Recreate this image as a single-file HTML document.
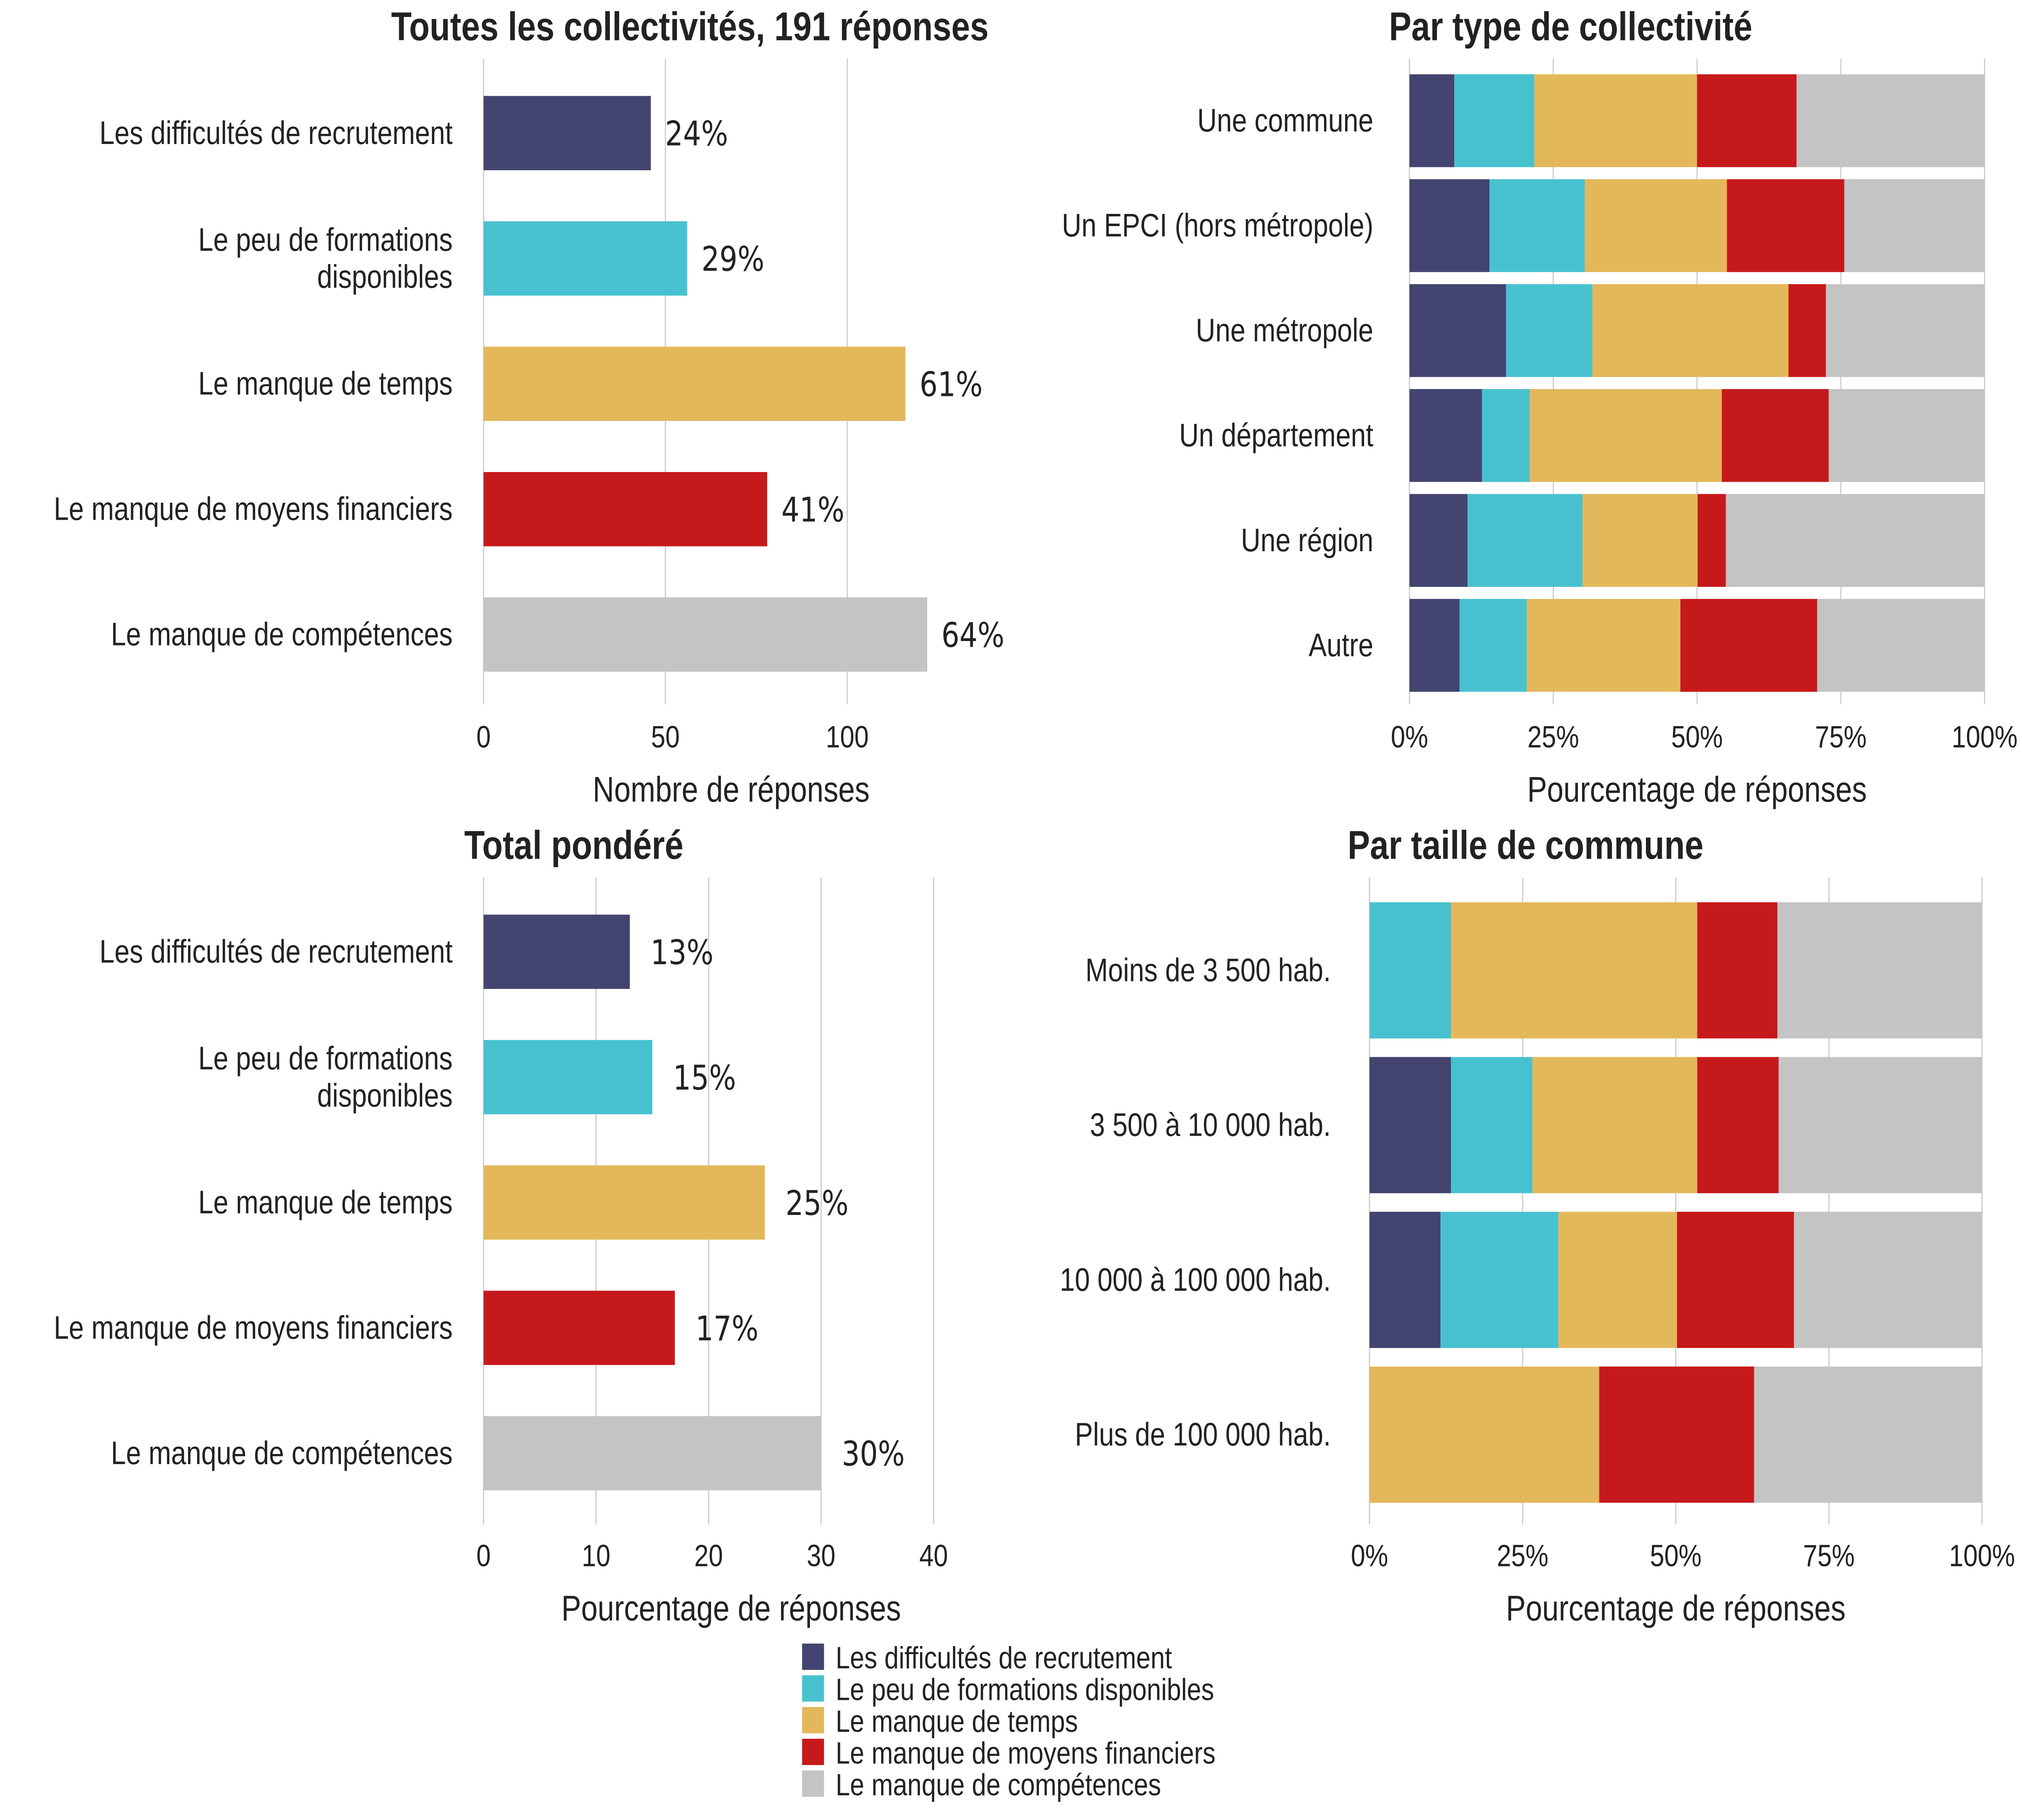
<!DOCTYPE html>
<html><head><meta charset="utf-8"><style>
html,body{margin:0;padding:0;background:#fff;overflow:hidden;width:100vw;height:100vh;}
svg{display:block;width:100vw;height:100vh;}
text{font-family:"Liberation Sans Narrow","Liberation Sans","DejaVu Sans",sans-serif;fill:#222;}
.pct{font-family:"DejaVu Sans","Liberation Sans",sans-serif;}
</style></head><body>
<svg id="chart" viewBox="0 0 1568 1176" preserveAspectRatio="none" xmlns="http://www.w3.org/2000/svg"></svg>
<script>
const causes = ["Les difficultés de recrutement","Le peu de formations disponibles","Le manque de temps","Le manque de moyens financiers","Le manque de compétences"];
const causeLabels = [["Les difficultés de recrutement"],["Le peu de formations","disponibles"],["Le manque de temps"],["Le manque de moyens financiers"],["Le manque de compétences"]];
const colors = ["#43446f","#48c1cf","#e3b85a","#c6191c","#c4c4c4"];
const allCounts = [46,56,116,78,122];
const allPctLabels = ["24%","29%","61%","41%","64%"];
const allTicks = [0,50,100];
const weighted = [13,15,25,17,30];
const weightedLabels = ["13%","15%","25%","17%","30%"];
const weightedTicks = [0,10,20,30,40];
const typeCats = ["Une commune","Un EPCI (hors métropole)","Une métropole","Un département","Une région","Autre"];
const typeRecrut = [7.8,13.9,16.8,12.6,10.1,8.7];
const typeForm = [13.9,16.6,15.0,8.3,20.0,11.7];
const typeTemps = [28.3,24.7,34.1,33.4,20.0,26.7];
const typeMoyens = [17.3,20.4,6.5,18.6,4.9,23.8];
const typeComp = [32.7,24.4,27.6,27.1,45.0,29.1];
const sizeCats = ["Moins de 3 500 hab.","3 500 à 10 000 hab.","10 000 à 100 000 hab.","Plus de 100 000 hab."];
const sizeRecrut = [0,13.3,11.6,0];
const sizeForm = [13.3,13.3,19.2,0];
const sizeTemps = [40.2,26.9,19.4,37.5];
const sizeMoyens = [13.1,13.3,19.1,25.3];
const sizeComp = [33.4,33.2,30.7,37.2];
const pctTicks = [0,25,50,75,100];
const pctTickLabels = ["0%","25%","50%","75%","100%"];

const svg = document.getElementById('chart');
const NS = "http://www.w3.org/2000/svg";
function mk(tag, attrs, parent){const e=document.createElementNS(NS,tag);for(const k in attrs)e.setAttribute(k,attrs[k]);(parent||svg).appendChild(e);return e;}
function txt(s,attrs,parent){const e=mk('text',attrs,parent);e.textContent=s;return e;}

function hbar(cfg){
  const g=mk('g',{});
  
  
  const sx=v=>cfg.x0+(v-cfg.ticks[0])/(cfg.max)*(cfg.x1-cfg.x0);
  cfg.ticks.forEach(t=>{
    const l=mk('line',{x1:sx(t),x2:sx(t),y1:cfg.gy0,y2:cfg.gy1,stroke:'#d0d0d0','stroke-width':1},g);
    
    
    const tl=txt(String(t),{x:sx(t),y:cfg.tickY,'text-anchor':'middle','font-size':20},g);
    
    
  });
  cfg.values.forEach((v,i)=>{
    const cy=cfg.cy0+i*cfg.step;
    const r=mk('rect',{x:sx(0),y:cy-24,width:sx(v)-sx(0),height:48,fill:colors[i]},g);
    
    
    const lab=txt(cfg.labels[i],{x:sx(v)+cfg.lblOff,y:cy+8,'font-size':22,class:'pct'},g);
    
    
    const lines=causeLabels[i];
    lines.forEach((s,j)=>{
      const c=txt(s,{x:351,y:cy+7+(j-(lines.length-1)/2)*24,'text-anchor':'end','font-size':21},g);
      
      
    });
  });
  const t=txt(cfg.title,{x:cfg.titleX,y:cfg.titleY,'text-anchor':'middle','font-size':26,'font-weight':'bold'},g);
  
  
  const a=txt(cfg.axis,{x:cfg.axisX,y:cfg.axisY,'text-anchor':'middle','font-size':23},g);
  
  
}
hbar({name:'panel-all',x0:375,x1:657,max:100,ticks:allTicks,values:allCounts,labels:allPctLabels,cy0:86,step:81,gy0:38,gy1:455,tickY:483,lblOff:11,title:'Toutes les collectivités, 191 réponses',titleX:535,titleY:26,axis:'Nombre de réponses',axisX:567,axisY:518});
hbar({name:'panel-weighted',x0:375,x1:724,max:40,ticks:weightedTicks,values:weighted,labels:weightedLabels,cy0:615,step:81,gy0:567,gy1:985,tickY:1012,lblOff:16,title:'Total pondéré',titleX:445,titleY:555,axis:'Pourcentage de réponses',axisX:567,axisY:1047});

function stacked(cfg){
  const g=mk('g',{});
  
  
  const sx=v=>cfg.x0+v/100*(cfg.x1-cfg.x0);
  pctTicks.forEach(t=>{
    const l=mk('line',{x1:sx(t),x2:sx(t),y1:cfg.gy0,y2:cfg.gy1,stroke:'#d0d0d0','stroke-width':1},g);
    
    
  });
  cfg.cats.forEach((c,i)=>{
    const cy=cfg.cy0+i*cfg.step;
    let acc=0;
    cfg.series.forEach((s,k)=>{
      const v=s[i];
      if(v>0){
        const r=mk('rect',{x:sx(acc),y:cy-cfg.h/2,width:sx(acc+v)-sx(acc),height:cfg.h,fill:colors[k]},g);
        
        
      }
      acc+=v;
    });
    const l=txt(c,{x:cfg.labelX,y:cy+7,'text-anchor':'end','font-size':21},g);
    
    
  });
  pctTicks.forEach((t,i)=>{
    const tl=txt(pctTickLabels[i],{x:sx(t),y:cfg.tickY,'text-anchor':'middle','font-size':20},g);
    
    
  });
  const t=txt(cfg.title,{x:cfg.titleX,y:cfg.titleY,'text-anchor':'middle','font-size':26,'font-weight':'bold'},g);
  
  
  const a=txt('Pourcentage de réponses',{x:(cfg.x0+cfg.x1)/2,y:cfg.axisY,'text-anchor':'middle','font-size':23},g);
  
  
}
stacked({name:'panel-type',x0:1093,x1:1539,cats:typeCats,series:[typeRecrut,typeForm,typeTemps,typeMoyens,typeComp],cy0:78,step:67.8,h:60,labelX:1065,tickY:483,gy0:38,gy1:455,title:'Par type de collectivité',titleX:1218,titleY:26,axisY:518});
stacked({name:'panel-size',x0:1062,x1:1537,cats:sizeCats,series:[sizeRecrut,sizeForm,sizeTemps,sizeMoyens,sizeComp],cy0:627,step:100,h:88,labelX:1032,tickY:1012,gy0:567,gy1:985,title:'Par taille de commune',titleX:1183,titleY:555,axisY:1047});

const lg=mk('g',{});


causes.forEach((c,i)=>{
  const y=1071+i*20.5;
  const r=mk('rect',{x:622,y:y-9,width:17,height:17,fill:colors[i]},lg);
  
  
  const t=txt(c,{x:648,y:y+7,'font-size':20},lg);
  
  
});
</script>
</body></html>
